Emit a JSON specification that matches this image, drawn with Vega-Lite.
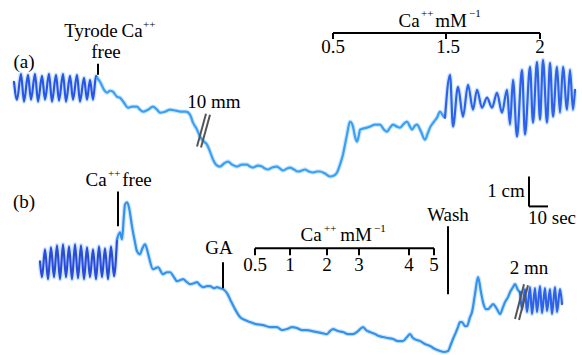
{
  "$schema": "https://vega.github.io/schema/vega-lite/v6.json",
  "width": 582,
  "height": 355,
  "autosize": {"type": "fit", "contains": "padding"},
  "padding": 0,
  "background": "white",
  "config": {"view": {"stroke": null}},
  "datasets": {
    "traces": [
      {"s":"a_osc","x":14,"y":82},{"s":"a_osc","x":17,"y":100},{"s":"a_osc","x":21,"y":74},{"s":"a_osc","x":24,"y":102},{"s":"a_osc","x":28,"y":75},{"s":"a_osc","x":31,"y":100},{"s":"a_osc","x":35,"y":74},{"s":"a_osc","x":38,"y":102},{"s":"a_osc","x":42,"y":76},{"s":"a_osc","x":45,"y":100},{"s":"a_osc","x":49,"y":74},{"s":"a_osc","x":52,"y":102},{"s":"a_osc","x":56,"y":75},{"s":"a_osc","x":59,"y":101},{"s":"a_osc","x":63,"y":74},{"s":"a_osc","x":66,"y":102},{"s":"a_osc","x":70,"y":76},{"s":"a_osc","x":73,"y":100},{"s":"a_osc","x":77,"y":75},{"s":"a_osc","x":80,"y":102},{"s":"a_osc","x":84,"y":78},{"s":"a_osc","x":87,"y":100},{"s":"a_osc","x":90,"y":80},{"s":"a_osc","x":93,"y":100},{"s":"a_osc","x":96,"y":76},{"s":"a_osc","x":97,"y":78},
      {"s":"a_main","x":97,"y":78},{"s":"a_main","x":100,"y":82},{"s":"a_main","x":104,"y":90},{"s":"a_main","x":107,"y":93},{"s":"a_main","x":110,"y":91},{"s":"a_main","x":113,"y":92},{"s":"a_main","x":117,"y":97},{"s":"a_main","x":120,"y":98},{"s":"a_main","x":124,"y":103},{"s":"a_main","x":128,"y":108},{"s":"a_main","x":132,"y":107},{"s":"a_main","x":137,"y":107},{"s":"a_main","x":140,"y":110},{"s":"a_main","x":143,"y":112},{"s":"a_main","x":148,"y":110},{"s":"a_main","x":153,"y":107},{"s":"a_main","x":157,"y":110},{"s":"a_main","x":160,"y":113},{"s":"a_main","x":165,"y":112},{"s":"a_main","x":170,"y":110},{"s":"a_main","x":176,"y":111},{"s":"a_main","x":182,"y":112},{"s":"a_main","x":186,"y":112},{"s":"a_main","x":190,"y":115},{"s":"a_main","x":193,"y":123},{"s":"a_main","x":197,"y":130},{"s":"a_main","x":200,"y":137},{"s":"a_main","x":204,"y":142},{"s":"a_main","x":207,"y":145},{"s":"a_main","x":210,"y":152},{"s":"a_main","x":213,"y":160},{"s":"a_main","x":217,"y":166},{"s":"a_main","x":220,"y":167},{"s":"a_main","x":224,"y":164},{"s":"a_main","x":228,"y":162},{"s":"a_main","x":232,"y":165},{"s":"a_main","x":237,"y":167},{"s":"a_main","x":242,"y":165},{"s":"a_main","x":247,"y":165},{"s":"a_main","x":250,"y":167},{"s":"a_main","x":253,"y":168},{"s":"a_main","x":258,"y":166},{"s":"a_main","x":262,"y":167},{"s":"a_main","x":265,"y":169},{"s":"a_main","x":268,"y":170},{"s":"a_main","x":272,"y":168},{"s":"a_main","x":277,"y":167},{"s":"a_main","x":280,"y":169},{"s":"a_main","x":283,"y":171},{"s":"a_main","x":287,"y":169},{"s":"a_main","x":290,"y":168},{"s":"a_main","x":294,"y":170},{"s":"a_main","x":298,"y":172},{"s":"a_main","x":302,"y":171},{"s":"a_main","x":305,"y":170},{"s":"a_main","x":309,"y":172},{"s":"a_main","x":313,"y":173},{"s":"a_main","x":317,"y":172},{"s":"a_main","x":320,"y":172},{"s":"a_main","x":325,"y":174},{"s":"a_main","x":330,"y":177},{"s":"a_main","x":334,"y":176},{"s":"a_main","x":337,"y":173},{"s":"a_main","x":340,"y":165},{"s":"a_main","x":343,"y":155},{"s":"a_main","x":345,"y":145},{"s":"a_main","x":347,"y":135},{"s":"a_main","x":350,"y":122},{"s":"a_main","x":352,"y":124},{"s":"a_main","x":353,"y":127},{"s":"a_main","x":355,"y":137},{"s":"a_main","x":357,"y":142},{"s":"a_main","x":359,"y":135},{"s":"a_main","x":360,"y":130},{"s":"a_main","x":363,"y":129},{"s":"a_main","x":367,"y":128},{"s":"a_main","x":370,"y":127},{"s":"a_main","x":375,"y":125},{"s":"a_main","x":380,"y":125},{"s":"a_main","x":384,"y":130},{"s":"a_main","x":387,"y":132},{"s":"a_main","x":390,"y":128},{"s":"a_main","x":393,"y":125},{"s":"a_main","x":397,"y":127},{"s":"a_main","x":400,"y":128},{"s":"a_main","x":404,"y":124},{"s":"a_main","x":407,"y":122},{"s":"a_main","x":410,"y":127},{"s":"a_main","x":412,"y":130},{"s":"a_main","x":415,"y":126},{"s":"a_main","x":417,"y":125},{"s":"a_main","x":421,"y":132},{"s":"a_main","x":425,"y":140},{"s":"a_main","x":428,"y":133},{"s":"a_main","x":430,"y":128},{"s":"a_main","x":434,"y":122},{"s":"a_main","x":437,"y":118},{"s":"a_main","x":440,"y":112},{"s":"a_main","x":443,"y":116},{"s":"a_main","x":445,"y":118},
      {"s":"a_osc2","x":445,"y":118},{"s":"a_osc2","x":450,"y":75},{"s":"a_osc2","x":453,"y":127},{"s":"a_osc2","x":458,"y":87},{"s":"a_osc2","x":463,"y":117},{"s":"a_osc2","x":468,"y":85},{"s":"a_osc2","x":473,"y":110},{"s":"a_osc2","x":477,"y":90},{"s":"a_osc2","x":482,"y":108},{"s":"a_osc2","x":487,"y":98},{"s":"a_osc2","x":492,"y":108},{"s":"a_osc2","x":497,"y":93},{"s":"a_osc2","x":502,"y":113},{"s":"a_osc2","x":507,"y":90},{"s":"a_osc2","x":510,"y":125},{"s":"a_osc2","x":513,"y":80},{"s":"a_osc2","x":517,"y":137},{"s":"a_osc2","x":522,"y":70},{"s":"a_osc2","x":525,"y":135},{"s":"a_osc2","x":530,"y":67},{"s":"a_osc2","x":533,"y":123},{"s":"a_osc2","x":537,"y":62},{"s":"a_osc2","x":540,"y":120},{"s":"a_osc2","x":543,"y":60},{"s":"a_osc2","x":547,"y":123},{"s":"a_osc2","x":550,"y":63},{"s":"a_osc2","x":553,"y":117},{"s":"a_osc2","x":557,"y":67},{"s":"a_osc2","x":560,"y":113},{"s":"a_osc2","x":563,"y":67},{"s":"a_osc2","x":567,"y":110},{"s":"a_osc2","x":570,"y":70},{"s":"a_osc2","x":573,"y":110},{"s":"a_osc2","x":575,"y":90},
      {"s":"b_osc","x":40,"y":262},{"s":"b_osc","x":42,"y":278},{"s":"b_osc","x":45,"y":250},{"s":"b_osc","x":48,"y":280},{"s":"b_osc","x":51,"y":248},{"s":"b_osc","x":54,"y":278},{"s":"b_osc","x":57,"y":246},{"s":"b_osc","x":60,"y":280},{"s":"b_osc","x":63,"y":245},{"s":"b_osc","x":66,"y":278},{"s":"b_osc","x":69,"y":247},{"s":"b_osc","x":72,"y":280},{"s":"b_osc","x":75,"y":245},{"s":"b_osc","x":78,"y":279},{"s":"b_osc","x":81,"y":246},{"s":"b_osc","x":84,"y":280},{"s":"b_osc","x":87,"y":248},{"s":"b_osc","x":90,"y":278},{"s":"b_osc","x":93,"y":250},{"s":"b_osc","x":96,"y":280},{"s":"b_osc","x":99,"y":247},{"s":"b_osc","x":102,"y":278},{"s":"b_osc","x":105,"y":249},{"s":"b_osc","x":108,"y":280},{"s":"b_osc","x":111,"y":247},{"s":"b_osc","x":114,"y":277},{"s":"b_osc","x":117,"y":240},
      {"s":"b_main","x":117,"y":240},{"s":"b_main","x":120,"y":233},{"s":"b_main","x":122,"y":240},{"s":"b_main","x":124,"y":215},{"s":"b_main","x":125,"y":205},{"s":"b_main","x":127,"y":203},{"s":"b_main","x":129,"y":208},{"s":"b_main","x":132,"y":227},{"s":"b_main","x":135,"y":243},{"s":"b_main","x":137,"y":252},{"s":"b_main","x":140,"y":255},{"s":"b_main","x":142,"y":250},{"s":"b_main","x":145,"y":245},{"s":"b_main","x":147,"y":250},{"s":"b_main","x":149,"y":258},{"s":"b_main","x":153,"y":270},{"s":"b_main","x":158,"y":268},{"s":"b_main","x":163,"y":275},{"s":"b_main","x":167,"y":273},{"s":"b_main","x":170,"y":273},{"s":"b_main","x":174,"y":278},{"s":"b_main","x":177,"y":282},{"s":"b_main","x":180,"y":281},{"s":"b_main","x":183,"y":280},{"s":"b_main","x":187,"y":283},{"s":"b_main","x":190,"y":285},{"s":"b_main","x":194,"y":284},{"s":"b_main","x":197,"y":283},{"s":"b_main","x":200,"y":286},{"s":"b_main","x":203,"y":288},{"s":"b_main","x":207,"y":287},{"s":"b_main","x":210,"y":287},{"s":"b_main","x":214,"y":289},{"s":"b_main","x":217,"y":288},{"s":"b_main","x":220,"y":289},{"s":"b_main","x":223,"y":290},{"s":"b_main","x":227,"y":294},{"s":"b_main","x":230,"y":300},{"s":"b_main","x":235,"y":310},{"s":"b_main","x":240,"y":318},{"s":"b_main","x":245,"y":321},{"s":"b_main","x":250,"y":323},{"s":"b_main","x":256,"y":325},{"s":"b_main","x":263,"y":326},{"s":"b_main","x":270,"y":328},{"s":"b_main","x":277,"y":328},{"s":"b_main","x":282,"y":331},{"s":"b_main","x":287,"y":330},{"s":"b_main","x":292,"y":328},{"s":"b_main","x":297,"y":329},{"s":"b_main","x":302,"y":331},{"s":"b_main","x":307,"y":331},{"s":"b_main","x":312,"y":332},{"s":"b_main","x":317,"y":333},{"s":"b_main","x":322,"y":334},{"s":"b_main","x":327,"y":335},{"s":"b_main","x":330,"y":332},{"s":"b_main","x":333,"y":330},{"s":"b_main","x":338,"y":332},{"s":"b_main","x":343,"y":333},{"s":"b_main","x":348,"y":335},{"s":"b_main","x":353,"y":335},{"s":"b_main","x":358,"y":332},{"s":"b_main","x":363,"y":328},{"s":"b_main","x":366,"y":331},{"s":"b_main","x":370,"y":333},{"s":"b_main","x":375,"y":335},{"s":"b_main","x":379,"y":337},{"s":"b_main","x":383,"y":338},{"s":"b_main","x":388,"y":339},{"s":"b_main","x":393,"y":340},{"s":"b_main","x":398,"y":342},{"s":"b_main","x":403,"y":342},{"s":"b_main","x":407,"y":338},{"s":"b_main","x":410,"y":335},{"s":"b_main","x":413,"y":339},{"s":"b_main","x":417,"y":341},{"s":"b_main","x":420,"y":342},{"s":"b_main","x":425,"y":345},{"s":"b_main","x":430,"y":347},{"s":"b_main","x":435,"y":350},{"s":"b_main","x":440,"y":352},{"s":"b_main","x":444,"y":353},{"s":"b_main","x":448,"y":352},{"s":"b_main","x":451,"y":345},{"s":"b_main","x":453,"y":340},{"s":"b_main","x":456,"y":333},{"s":"b_main","x":458,"y":328},{"s":"b_main","x":460,"y":323},{"s":"b_main","x":462,"y":323},{"s":"b_main","x":465,"y":327},{"s":"b_main","x":467,"y":327},{"s":"b_main","x":470,"y":318},{"s":"b_main","x":472,"y":313},{"s":"b_main","x":475,"y":295},{"s":"b_main","x":478,"y":278},{"s":"b_main","x":481,"y":293},{"s":"b_main","x":483,"y":303},{"s":"b_main","x":486,"y":310},{"s":"b_main","x":488,"y":310},{"s":"b_main","x":491,"y":307},{"s":"b_main","x":493,"y":305},{"s":"b_main","x":497,"y":310},{"s":"b_main","x":500,"y":315},{"s":"b_main","x":503,"y":308},{"s":"b_main","x":505,"y":303},{"s":"b_main","x":508,"y":298},{"s":"b_main","x":510,"y":293},{"s":"b_main","x":513,"y":288},{"s":"b_main","x":515,"y":285},{"s":"b_main","x":518,"y":291},{"s":"b_main","x":520,"y":293},
      {"s":"b_osc2","x":520,"y":293},{"s":"b_osc2","x":522,"y":310},{"s":"b_osc2","x":525,"y":290},{"s":"b_osc2","x":527,"y":313},{"s":"b_osc2","x":530,"y":288},{"s":"b_osc2","x":532,"y":315},{"s":"b_osc2","x":535,"y":289},{"s":"b_osc2","x":537,"y":313},{"s":"b_osc2","x":540,"y":287},{"s":"b_osc2","x":542,"y":314},{"s":"b_osc2","x":545,"y":289},{"s":"b_osc2","x":547,"y":312},{"s":"b_osc2","x":550,"y":290},{"s":"b_osc2","x":552,"y":315},{"s":"b_osc2","x":555,"y":288},{"s":"b_osc2","x":557,"y":313},{"s":"b_osc2","x":560,"y":290},{"s":"b_osc2","x":562,"y":305}
    ],
    "rules": [
      {"k":"ink","x":98,"y":64,"x2":98,"y2":75},
      {"k":"ink","x":333,"y":33,"x2":540,"y2":33},
      {"k":"ink","x":333,"y":33,"x2":333,"y2":39},
      {"k":"ink","x":446,"y":33,"x2":446,"y2":39},
      {"k":"ink","x":540,"y":33,"x2":540,"y2":39},
      {"k":"ink","x":118,"y":192,"x2":118,"y2":227},
      {"k":"ink","x":223,"y":263,"x2":223,"y2":289},
      {"k":"ink","x":448,"y":227,"x2":448,"y2":295},
      {"k":"ink","x":529,"y":177,"x2":529,"y2":207},
      {"k":"ink","x":529,"y":207,"x2":548,"y2":207},
      {"k":"ink","x":255,"y":249,"x2":434,"y2":249},
      {"k":"ink","x":255,"y":249,"x2":255,"y2":256},
      {"k":"ink","x":290,"y":249,"x2":290,"y2":256},
      {"k":"ink","x":327,"y":249,"x2":327,"y2":256},
      {"k":"ink","x":359,"y":249,"x2":359,"y2":256},
      {"k":"ink","x":409,"y":249,"x2":409,"y2":256},
      {"k":"ink","x":434,"y":249,"x2":434,"y2":256},
      {"k":"break","x":197,"y":147,"x2":206,"y2":114},
      {"k":"break","x":201,"y":148,"x2":210,"y2":115},
      {"k":"break","x":515,"y":320,"x2":524,"y2":285},
      {"k":"break","x":519,"y":321,"x2":528,"y2":286}
    ],
    "labels": [
      {"t":"(a)","x":24,"y":68},
      {"t":"(b)","x":24,"y":209},
      {"t":"Tyrode","x":91,"y":37},
      {"t":"Ca","x":132,"y":37},
      {"t":"free","x":106,"y":58},
      {"t":"10 mm","x":214,"y":108},
      {"t":"Ca","x":409,"y":27},
      {"t":"mM","x":451,"y":27},
      {"t":"0.5","x":333,"y":53},
      {"t":"1.5","x":448,"y":53},
      {"t":"2","x":540,"y":53},
      {"t":"Ca","x":96,"y":187},
      {"t":"free","x":137,"y":187},
      {"t":"GA","x":219,"y":255},
      {"t":"Wash","x":448,"y":222},
      {"t":"1 cm","x":506,"y":198},
      {"t":"10 sec","x":552,"y":225},
      {"t":"Ca","x":311,"y":242},
      {"t":"mM","x":356,"y":242},
      {"t":"0.5","x":255,"y":272},
      {"t":"1","x":290,"y":272},
      {"t":"2","x":327,"y":272},
      {"t":"3","x":359,"y":272},
      {"t":"4","x":409,"y":272},
      {"t":"5","x":434,"y":272},
      {"t":"2 mn","x":529,"y":275}
    ],
    "sups": [
      {"t":"++","x":143,"y":28},
      {"t":"++","x":421,"y":17},
      {"t":"−1","x":469,"y":17},
      {"t":"++","x":108,"y":178},
      {"t":"++","x":324,"y":233},
      {"t":"−1","x":374,"y":233}
    ]
  },
  "layer": [
    {
      "data": {"name": "traces"},
      "mark": {"type": "line", "strokeWidth": 4.5, "opacity": 0.35, "color": "#6fb8f7", "interpolate": "monotone", "strokeJoin": "round"},
      "encoding": {
        "x": {"field": "x", "type": "quantitative", "scale": {"domain": [0, 582], "nice": false, "zero": false}, "axis": null},
        "y": {"field": "y", "type": "quantitative", "scale": {"domain": [0, 355], "reverse": true, "nice": false, "zero": false}, "axis": null},
        "detail": {"field": "s", "type": "nominal"}
      }
    },
    {
      "data": {"name": "traces"},
      "mark": {"type": "line", "strokeWidth": 2.2, "interpolate": "monotone", "strokeJoin": "round", "strokeCap": "round"},
      "encoding": {
        "x": {"field": "x", "type": "quantitative", "scale": {"domain": [0, 582], "nice": false, "zero": false}, "axis": null},
        "y": {"field": "y", "type": "quantitative", "scale": {"domain": [0, 355], "reverse": true, "nice": false, "zero": false}, "axis": null},
        "color": {"field": "s", "type": "nominal", "legend": null,
          "scale": {"domain": ["a_osc","a_main","a_osc2","b_osc","b_main","b_osc2"], "range": ["#2a55e4","#3aa0f2","#2f62e8","#2a4cd8","#3592ea","#2f62e8"]}}
      }
    },
    {
      "data": {"name": "rules"},
      "mark": {"type": "rule", "strokeWidth": 2},
      "encoding": {
        "x": {"field": "x", "type": "quantitative", "scale": {"domain": [0, 582], "nice": false, "zero": false}, "axis": null},
        "y": {"field": "y", "type": "quantitative", "scale": {"domain": [0, 355], "reverse": true, "nice": false, "zero": false}, "axis": null},
        "x2": {"field": "x2"},
        "y2": {"field": "y2"},
        "stroke": {"field": "k", "type": "nominal", "legend": null, "scale": {"domain": ["ink","break"], "range": ["#000000","#555555"]}}
      }
    },
    {
      "data": {"name": "labels"},
      "mark": {"type": "text", "font": "'Liberation Serif', 'Times New Roman', serif", "fontSize": 19, "align": "center", "baseline": "alphabetic", "color": "#000000"},
      "encoding": {
        "x": {"field": "x", "type": "quantitative", "scale": {"domain": [0, 582], "nice": false, "zero": false}, "axis": null},
        "y": {"field": "y", "type": "quantitative", "scale": {"domain": [0, 355], "reverse": true, "nice": false, "zero": false}, "axis": null},
        "text": {"field": "t", "type": "nominal"}
      }
    },
    {
      "data": {"name": "sups"},
      "mark": {"type": "text", "font": "'Liberation Serif', 'Times New Roman', serif", "fontSize": 11, "align": "left", "baseline": "alphabetic", "color": "#000000"},
      "encoding": {
        "x": {"field": "x", "type": "quantitative", "scale": {"domain": [0, 582], "nice": false, "zero": false}, "axis": null},
        "y": {"field": "y", "type": "quantitative", "scale": {"domain": [0, 355], "reverse": true, "nice": false, "zero": false}, "axis": null},
        "text": {"field": "t", "type": "nominal"}
      }
    }
  ]
}
